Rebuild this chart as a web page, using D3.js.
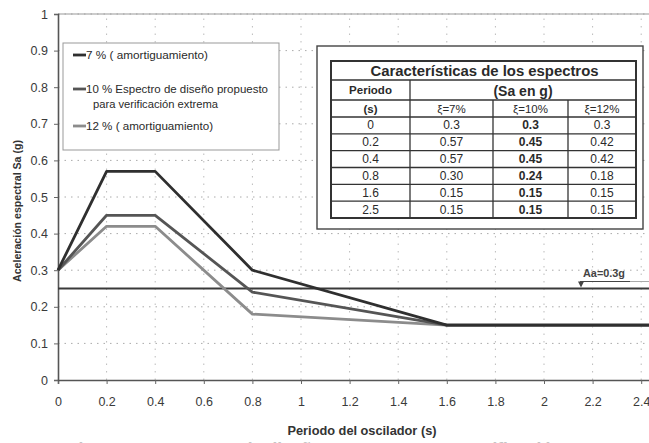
<!DOCTYPE html>
<html><head><meta charset="utf-8">
<script src="https://cdn.jsdelivr.net/npm/d3@7/dist/d3.min.js"></script>
<style>
html,body{margin:0;padding:0;background:#fff;}
svg{display:block;font-family:"Liberation Sans",Arial,sans-serif;}
</style></head>
<body>
<svg id="chart" width="649" height="443"></svg>
<script>
// ---- data ----
const periods = [0, 0.2, 0.4, 0.8, 1.6, 2.5];
const sa7  = [0.3, 0.57, 0.57, 0.30, 0.15, 0.15];
const sa10 = [0.3, 0.45, 0.45, 0.24, 0.15, 0.15];
const sa12 = [0.3, 0.42, 0.42, 0.18, 0.15, 0.15];
const seriesNames = ["7 % ( amortiguamiento)", "10 % Espectro de diseño propuesto|para verificación extrema", "12 % ( amortiguamiento)"];
const aaValue = 0.25;
const aaLabel = "Aa=0.3g";
const xTicks = [0,0.2,0.4,0.6,0.8,1,1.2,1.4,1.6,1.8,2,2.2,2.4];
const xTickLabels = ["0","0.2","0.4","0.6","0.8","1","1.2","1.4","1.6","1.8","2","2.2","2.4"];
const yTicks = [0,0.1,0.2,0.3,0.4,0.5,0.6,0.7,0.8,0.9,1];
const yTickLabels = ["0","0.1","0.2","0.3","0.4","0.5","0.6","0.7","0.8","0.9","1"];
const tablePeriods = ["0","0.2","0.4","0.8","1.6","2.5"];
const tab7  = ["0.3","0.57","0.57","0.30","0.15","0.15"];
const tab10 = ["0.3","0.45","0.45","0.24","0.15","0.15"];
const tab12 = ["0.3","0.42","0.42","0.18","0.15","0.15"];
const tableTitle = "Características de los espectros";
const tableHead = ["Periodo","(Sa en g)","(s)","ξ=7%","ξ=10%","ξ=12%"];
const xTitle = "Periodo del oscilador (s)";
const yTitle = "Aceleración espectral Sa (g)";
const caption = "Figura 3.3 Espectros de diseño propuestos para verificación extrema";

const svg = d3.select("#chart");
const x = d3.scaleLinear().domain([0, 2.5]).range([58, 665.5]);
const y = d3.scaleLinear().domain([0, 1]).range([380, 14]);
const colors = ["#2f2f2f", "#555555", "#8c8c8c"];

// grid
const g = svg.append("g");
g.selectAll(".hg").data(yTicks.slice(1)).enter().append("line")
  .attr("x1", x(0)).attr("x2", 649).attr("y1", d=>y(d)).attr("y2", d=>y(d))
  .attr("stroke", "#aaa").attr("stroke-width", 1).attr("stroke-dasharray", "1.5,5");
g.selectAll(".vg").data(xTicks.slice(1)).enter().append("line")
  .attr("x1", d=>x(d)).attr("x2", d=>x(d)).attr("y1", y(0)).attr("y2", y(1))
  .attr("stroke", "#bbb").attr("stroke-width", 1).attr("stroke-dasharray", "1.5,6");

// top frame
svg.append("line").attr("x1", x(0)).attr("x2", 649).attr("y1", y(1)).attr("y2", y(1))
  .attr("stroke", "#999").attr("stroke-width", 1.2);

// axes
const xAxis = d3.axisBottom(x).tickValues(xTicks).tickFormat((d,i)=>xTickLabels[i]).tickSize(4).tickPadding(13);
const yAxis = d3.axisLeft(y).tickValues(yTicks).tickFormat((d,i)=>yTickLabels[i]).tickSize(4).tickPadding(6);
const gx = svg.append("g").attr("transform", `translate(0,${y(0)})`).call(xAxis);
const gy = svg.append("g").attr("transform", `translate(${x(0)},0)`).call(yAxis);
[gx, gy].forEach(a => {
  a.select(".domain").attr("stroke", "#555").attr("stroke-width", 1.6);
  a.selectAll(".tick line").attr("stroke", "#666");
  a.selectAll("text").attr("font-size", 12.5).attr("fill", "#3a3a3a").attr("font-family", "'Liberation Sans',Arial,sans-serif");
});

// Aa horizontal line
svg.append("line").attr("x1", x(0)).attr("x2", 649).attr("y1", y(aaValue)).attr("y2", y(aaValue))
  .attr("stroke", "#3a3a3a").attr("stroke-width", 1.8);

// series lines
const line = d3.line().x(d=>x(d[0])).y(d=>y(d[1]));
[sa12, sa10, sa7].forEach((s, k) => {
  const idx = 2 - k;
  svg.append("path").datum(periods.map((p,i)=>[p, s[i]]))
    .attr("d", line).attr("fill", "none").attr("stroke", colors[idx])
    .attr("stroke-width", 2.8).attr("stroke-linejoin", "round");
});

// Aa label
const ay = y(aaValue);
svg.append("text").attr("x", 583).attr("y", ay - 12).attr("font-size", 10).attr("font-weight", "bold")
  .attr("textLength", 42).attr("lengthAdjust", "spacingAndGlyphs")
  .attr("fill", "#444").text(aaLabel);
svg.append("line").attr("x1", 580).attr("x2", 630).attr("y1", ay - 7).attr("y2", ay - 7)
  .attr("stroke", "#444").attr("stroke-width", 1.2);
svg.append("line").attr("x1", 630).attr("x2", 649).attr("y1", ay - 7).attr("y2", ay - 7)
  .attr("stroke", "#aaa").attr("stroke-width", 1);
svg.append("path").attr("d", `M578,${ay-7} L584,${ay-7} L581,${ay-1} Z`).attr("fill", "#444");

// legend
const lg = svg.append("g");
lg.append("rect").attr("x", 63).attr("y", 43).attr("width", 216).attr("height", 107)
  .attr("fill", "#fff").attr("stroke", "#999").attr("stroke-width", 1);
const legY = [55, 89, 126];
const legLen = [[122], [182, 125], [127]];
seriesNames.forEach((name, i) => {
  lg.append("line").attr("x1", 73).attr("x2", 86).attr("y1", legY[i]).attr("y2", legY[i])
    .attr("stroke", colors[i]).attr("stroke-width", 2.8);
  const parts = name.split("|");
  parts.forEach((p, j) => {
    lg.append("text").attr("x", j === 0 ? 86 : 93).attr("y", legY[i] + 3.8 + j * 15)
      .attr("font-size", 10.5).attr("fill", "#2a2a2a")
      .attr("textLength", legLen[i][j]).attr("lengthAdjust", "spacingAndGlyphs").text(p);
  });
});

// table
const tb = svg.append("g");
tb.append("rect").attr("x", 317).attr("y", 46).attr("width", 326).attr("height", 183)
  .attr("fill", "#fff").attr("stroke", "#444").attr("stroke-width", 1.4);
const colX = [331, 410, 493, 568, 636];
const dataTop = 117, dataBottom = 218, rh = (dataBottom - dataTop) / tablePeriods.length;
const stroke = "#333";
tb.append("rect").attr("x", colX[0]).attr("y", 61).attr("width", colX[4]-colX[0]).attr("height", dataBottom-61)
  .attr("fill", "none").attr("stroke", stroke).attr("stroke-width", 2);
const hLines = [80, 100, 117].concat(d3.range(1, tablePeriods.length).map(i => dataTop + i*rh));
hLines.forEach(yy => tb.append("line").attr("x1", colX[0]).attr("x2", colX[4]).attr("y1", yy).attr("y2", yy)
  .attr("stroke", stroke).attr("stroke-width", 1.3));
tb.append("line").attr("x1", colX[1]).attr("x2", colX[1]).attr("y1", 80).attr("y2", dataBottom).attr("stroke", stroke).attr("stroke-width", 1.3);
[colX[2], colX[3]].forEach(cx => tb.append("line").attr("x1", cx).attr("x2", cx).attr("y1", 100).attr("y2", dataBottom).attr("stroke", stroke).attr("stroke-width", 1.3));
const cell = (cx, cy, t, size, bold, len) => {
  const tx = tb.append("text").attr("x", cx).attr("y", cy).attr("text-anchor", "middle")
    .attr("dominant-baseline", "central").attr("font-size", size).attr("font-weight", bold ? "bold" : "normal")
    .attr("fill", "#2a2a2a").text(t);
  if (len) tx.attr("textLength", len).attr("lengthAdjust", "spacingAndGlyphs");
  return tx;
};
cell((colX[0]+colX[4])/2 + 1, 71, tableTitle, 14.5, true, 228);
cell((colX[0]+colX[1])/2, 90, tableHead[0], 11.5, true);
cell((colX[1]+colX[4])/2, 91, tableHead[1], 14, true);
cell((colX[0]+colX[1])/2, 108.5, tableHead[2], 11.5, true);
cell((colX[1]+colX[2])/2, 108.5, tableHead[3], 11.5, false);
cell((colX[2]+colX[3])/2, 108.5, tableHead[4], 11.5, false);
cell((colX[3]+colX[4])/2, 108.5, tableHead[5], 11.5, false);
tablePeriods.forEach((p, i) => {
  const cy = dataTop + (i + 0.5) * rh;
  cell((colX[0]+colX[1])/2, cy, p, 12, false);
  cell((colX[1]+colX[2])/2, cy, tab7[i], 12, false);
  cell((colX[2]+colX[3])/2, cy, tab10[i], 12, true);
  cell((colX[3]+colX[4])/2, cy, tab12[i], 12, false);
});

// axis titles
svg.append("text").attr("transform", "translate(21,211) rotate(-90)").attr("text-anchor", "middle")
  .attr("font-size", 10.5).attr("font-weight", "bold").attr("fill", "#333")
  .attr("textLength", 142).attr("lengthAdjust", "spacingAndGlyphs").text(yTitle);
svg.append("text").attr("x", 362).attr("y", 435).attr("text-anchor", "middle")
  .attr("font-size", 12.5).attr("font-weight", "bold").attr("fill", "#333")
  .attr("textLength", 149).attr("lengthAdjust", "spacingAndGlyphs").text(xTitle);

// faint, cut-off caption at the bottom edge
svg.append("text").attr("x", 68).attr("y", 453).attr("font-size", 14).attr("font-weight", "bold")
  .attr("fill", "#c4c4c4").attr("textLength", 565).attr("lengthAdjust", "spacingAndGlyphs").text(caption);
</script>
</body></html>
